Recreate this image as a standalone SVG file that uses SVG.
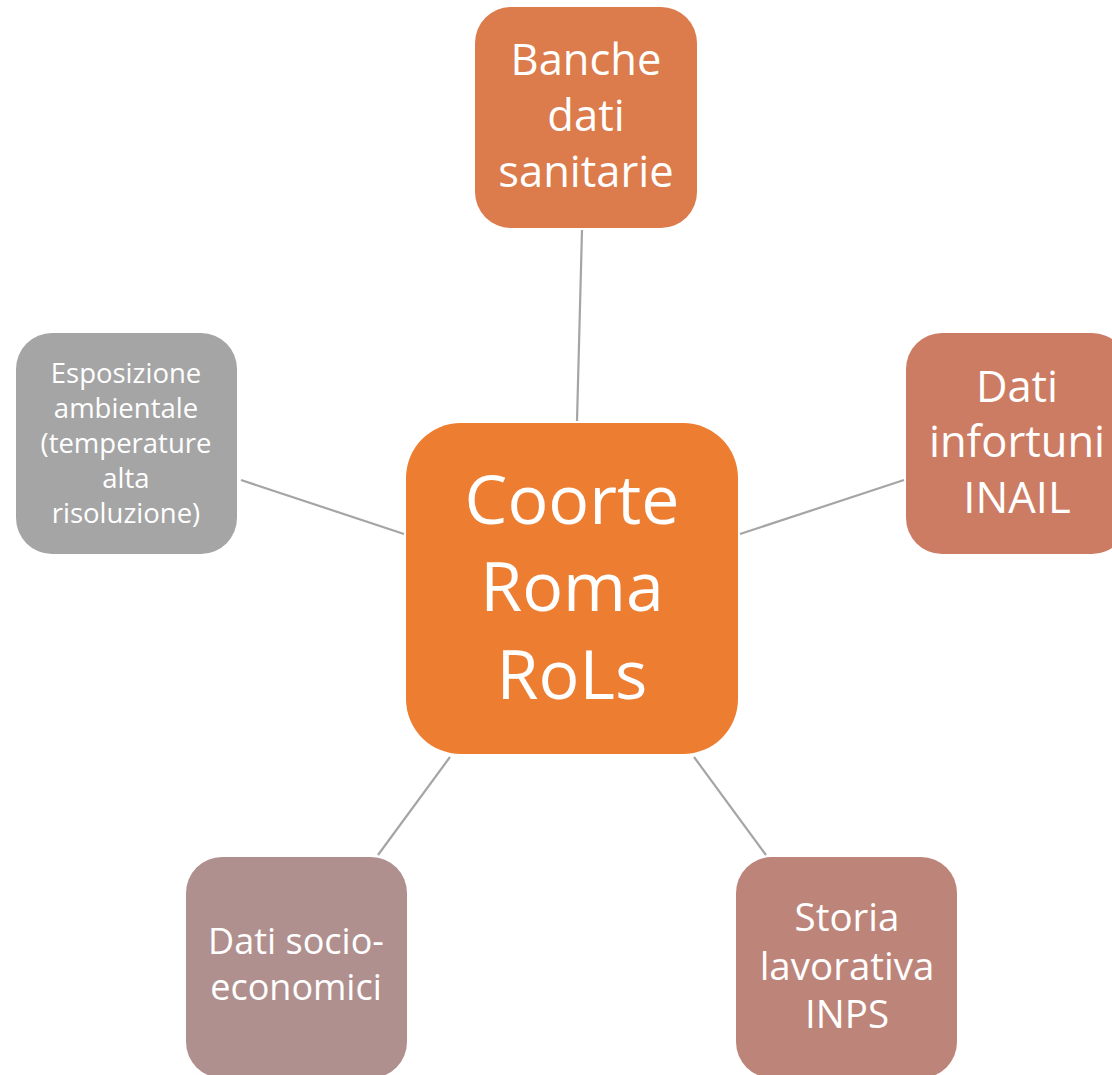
<svg xmlns="http://www.w3.org/2000/svg" width="1112" height="1075" viewBox="0 0 1112 1075">
<style>
text{font-family:"Open Sans","Noto Sans","Liberation Sans",sans-serif;fill:#ffffff;text-anchor:middle}
.c{stroke:#a5a5a5;stroke-width:2.2;fill:none}
</style>
<rect width="1112" height="1075" fill="#ffffff"/>
<g id="connectors">
<line class="c" x1="582" y1="230" x2="577" y2="421"/>
<line class="c" x1="241" y1="480" x2="404" y2="534"/>
<line class="c" x1="740" y1="534" x2="904" y2="480"/>
<line class="c" x1="450" y1="757" x2="378" y2="855"/>
<line class="c" x1="694" y1="757" x2="766" y2="855"/>
</g>
<g id="center">
<rect x="406" y="423" width="332" height="331" rx="55" fill="#ed7d31"/>
<text font-size="68"><tspan x="572" y="524">Coorte</tspan><tspan x="572" y="611">Roma</tspan><tspan x="572" y="699">RoLs</tspan></text>
</g>
<g id="banche">
<rect x="475" y="7" width="222" height="221" rx="36" fill="#dc7b4b"/>
<text font-size="43.5"><tspan x="586" y="75">Banche</tspan><tspan x="586" y="131">dati</tspan><tspan x="586" y="187">sanitarie</tspan></text>
</g>
<g id="inail">
<rect x="906" y="333" width="222" height="221" rx="36" fill="#cd7c64"/>
<text font-size="43.5"><tspan x="1017" y="402">Dati</tspan><tspan x="1017" y="457">infortuni</tspan><tspan x="1017" y="513">INAIL</tspan></text>
</g>
<g id="inps">
<rect x="736" y="857" width="221" height="221" rx="36" fill="#bd857a"/>
<text font-size="38.5"><tspan x="847" y="931">Storia</tspan><tspan x="847" y="979.5">lavorativa</tspan><tspan x="847" y="1028">INPS</tspan></text>
</g>
<g id="socio">
<rect x="186" y="857" width="221" height="221" rx="36" fill="#b0908e"/>
<text font-size="36"><tspan x="296" y="954">Dati socio-</tspan><tspan x="296" y="1000">economici</tspan></text>
</g>
<g id="esposizione">
<rect x="16" y="333" width="221" height="221" rx="36" fill="#a5a5a5"/>
<text font-size="27.5"><tspan x="126" y="383">Esposizione</tspan><tspan x="126" y="418">ambientale</tspan><tspan x="126" y="453">(temperature</tspan><tspan x="126" y="488">alta</tspan><tspan x="126" y="523">risoluzione)</tspan></text>
</g>
</svg>
